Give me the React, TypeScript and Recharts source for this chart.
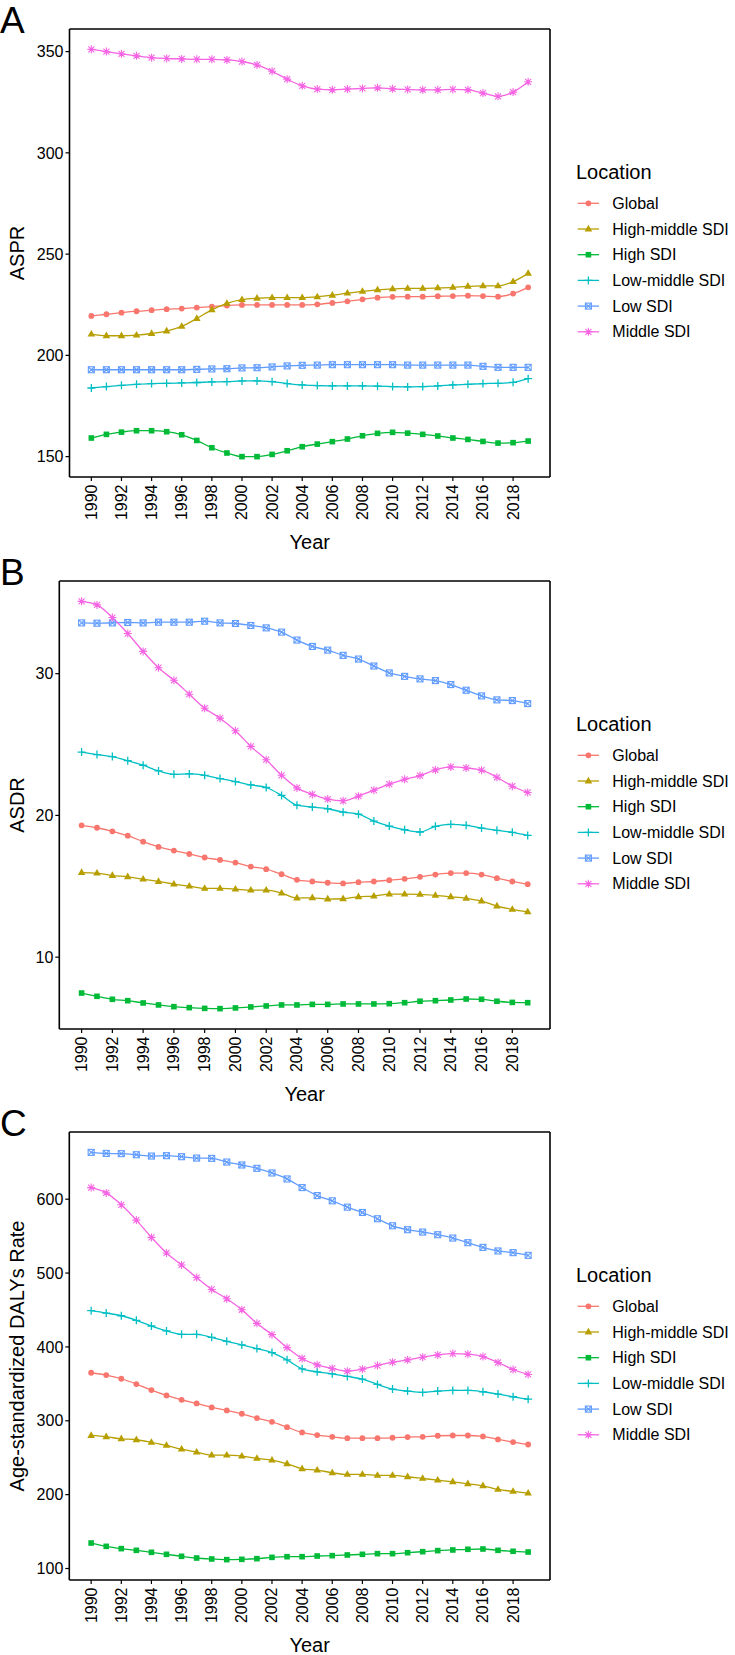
import React from 'react';
import { LineChart, Line, XAxis, YAxis, Legend, CartesianGrid } from 'recharts';

const years = [
  1990, 1991, 1992, 1993, 1994, 1995, 1996, 1997, 1998, 1999,
  2000, 2001, 2002, 2003, 2004, 2005, 2006, 2007, 2008, 2009,
  2010, 2011, 2012, 2013, 2014, 2015, 2016, 2017, 2018, 2019
];
const yearTicks = [1990, 1992, 1994, 1996, 1998, 2000, 2002, 2004, 2006, 2008, 2010, 2012, 2014, 2016, 2018];

const locations = ['Global', 'High-middle SDI', 'High SDI', 'Low-middle SDI', 'Low SDI', 'Middle SDI'];
const colors = ['#F8766D', '#B79F00', '#00BA38', '#00BFC4', '#619CFF', '#F564E3'];
const shapes = ['circle', 'triangle', 'square', 'plus', 'boxcross', 'asterisk'];

// A - ASPR
const asprGlobal = [219.5, 220.3, 221.1, 221.8, 222.3, 222.8, 223.1, 223.6, 224.1, 224.6, 224.9, 224.9, 224.9, 224.9, 224.9, 225.2, 225.9, 226.7, 227.7, 228.5, 228.9, 229.0, 229.0, 229.2, 229.3, 229.5, 229.3, 229.0, 230.5, 233.6];
const asprHighMiddle = [210.5, 209.7, 209.7, 210.0, 210.8, 212.0, 214.3, 218.2, 222.5, 225.7, 227.5, 228.2, 228.5, 228.5, 228.5, 228.9, 229.7, 230.7, 231.6, 232.3, 232.8, 233.1, 233.1, 233.3, 233.6, 234.1, 234.3, 234.3, 236.4, 240.5];
const asprHigh = [159.2, 161.0, 162.1, 162.8, 162.8, 162.3, 160.8, 158.0, 154.4, 151.8, 150.0, 150.0, 151.1, 152.9, 154.9, 156.2, 157.4, 158.7, 160.3, 161.5, 162.0, 161.6, 161.0, 160.2, 159.2, 158.5, 157.5, 156.7, 156.9, 157.7];
const asprLowMiddle = [183.9, 184.6, 185.2, 185.7, 186.1, 186.2, 186.4, 186.6, 186.9, 187.0, 187.4, 187.4, 187.0, 186.1, 185.4, 185.1, 184.9, 184.9, 184.9, 184.8, 184.6, 184.4, 184.6, 184.9, 185.4, 185.7, 186.1, 186.2, 186.7, 188.5];
const asprLow = [192.9, 192.9, 192.9, 192.9, 192.9, 192.9, 192.9, 193.1, 193.3, 193.4, 193.8, 193.9, 194.3, 194.8, 195.1, 195.2, 195.4, 195.4, 195.4, 195.4, 195.4, 195.2, 195.2, 195.2, 195.2, 195.2, 194.6, 194.1, 194.1, 194.1];
const asprMiddle = [351.1, 350.0, 348.9, 347.9, 347.0, 346.6, 346.4, 346.2, 346.2, 345.9, 345.1, 343.4, 340.3, 336.4, 333.1, 331.5, 331.1, 331.5, 331.8, 332.1, 331.6, 331.3, 331.1, 331.1, 331.3, 331.1, 329.5, 327.9, 330.0, 335.1];
const asprTicks = [150, 200, 250, 300, 350];

// B - ASDR
const asdrGlobal = [19.30, 19.13, 18.88, 18.57, 18.15, 17.78, 17.52, 17.28, 17.03, 16.86, 16.67, 16.39, 16.21, 15.85, 15.46, 15.34, 15.25, 15.20, 15.29, 15.34, 15.43, 15.53, 15.67, 15.83, 15.93, 15.93, 15.83, 15.57, 15.34, 15.15];
const asdrHighMiddle = [15.97, 15.93, 15.76, 15.67, 15.50, 15.34, 15.15, 15.01, 14.85, 14.85, 14.80, 14.73, 14.73, 14.52, 14.17, 14.19, 14.10, 14.12, 14.26, 14.31, 14.45, 14.45, 14.43, 14.36, 14.26, 14.15, 13.96, 13.61, 13.37, 13.19];
const asdrHigh = [7.47, 7.24, 7.03, 6.93, 6.77, 6.63, 6.51, 6.44, 6.39, 6.37, 6.42, 6.49, 6.56, 6.63, 6.63, 6.67, 6.67, 6.70, 6.70, 6.70, 6.72, 6.79, 6.89, 6.93, 6.98, 7.05, 7.03, 6.89, 6.81, 6.79];
const asdrLowMiddle = [24.47, 24.29, 24.15, 23.86, 23.54, 23.14, 22.90, 22.93, 22.83, 22.60, 22.39, 22.15, 21.97, 21.41, 20.72, 20.59, 20.47, 20.23, 20.09, 19.60, 19.25, 18.99, 18.83, 19.23, 19.37, 19.30, 19.11, 18.95, 18.81, 18.59];
const asdrLow = [33.58, 33.56, 33.58, 33.61, 33.58, 33.63, 33.63, 33.63, 33.70, 33.58, 33.54, 33.40, 33.23, 32.93, 32.37, 31.92, 31.66, 31.29, 31.03, 30.54, 30.05, 29.81, 29.63, 29.51, 29.23, 28.83, 28.43, 28.15, 28.10, 27.89];
const asdrMiddle = [35.10, 34.85, 33.96, 32.83, 31.57, 30.42, 29.53, 28.55, 27.56, 26.86, 25.97, 24.87, 23.93, 22.83, 21.94, 21.48, 21.15, 21.03, 21.36, 21.78, 22.20, 22.55, 22.81, 23.21, 23.42, 23.35, 23.19, 22.69, 22.06, 21.62];
const asdrTicks = [10, 20, 30];

// C - DALYs
const dalyGlobal = [365.0, 361.9, 356.9, 349.7, 341.5, 334.3, 328.4, 323.5, 318.1, 314.0, 309.5, 303.6, 298.6, 291.4, 284.2, 280.6, 278.3, 276.5, 276.5, 276.5, 277.0, 277.9, 278.3, 279.7, 280.1, 280.1, 278.8, 274.7, 271.1, 267.9];
const dalyHighMiddle = [280.1, 278.3, 275.6, 274.3, 270.7, 266.6, 261.6, 257.6, 253.5, 253.5, 252.1, 249.0, 246.7, 241.8, 235.0, 233.2, 229.6, 227.3, 227.3, 226.0, 226.0, 224.2, 221.9, 219.6, 217.4, 214.7, 212.0, 207.0, 204.3, 202.0];
const dalyHigh = [134.5, 130.0, 126.9, 124.6, 121.9, 119.2, 116.5, 114.2, 112.9, 112.0, 112.4, 113.3, 115.1, 116.0, 116.0, 116.9, 117.4, 118.3, 119.2, 120.1, 120.1, 121.4, 122.8, 124.2, 125.1, 126.0, 126.4, 124.6, 123.3, 122.3];
const dalyLowMiddle = [449.0, 445.8, 442.2, 436.0, 428.3, 421.6, 417.1, 417.1, 413.0, 407.6, 402.7, 397.8, 392.4, 382.5, 370.3, 366.3, 363.6, 360.0, 356.4, 349.2, 342.9, 340.2, 338.4, 340.2, 341.1, 341.1, 339.3, 336.1, 332.5, 329.3];
const dalyLow = [663.4, 662.0, 661.6, 660.2, 658.4, 658.9, 657.5, 655.7, 655.3, 650.3, 646.3, 641.8, 635.5, 627.4, 615.7, 604.9, 597.8, 589.2, 582.0, 573.5, 564.0, 558.7, 555.5, 551.9, 547.4, 541.1, 534.8, 529.9, 527.6, 524.0];
const dalyMiddle = [615.7, 608.5, 592.4, 571.7, 548.3, 527.2, 511.0, 493.9, 477.8, 465.2, 450.3, 431.9, 416.6, 399.1, 384.3, 375.7, 370.8, 367.2, 369.9, 374.8, 379.3, 382.5, 386.1, 389.2, 391.0, 390.1, 387.0, 378.9, 369.4, 362.7];
const dalyTicks = [100, 200, 300, 400, 500, 600];

const panels = [
  { letter: 'A', title: 'ASPR', ticks: asprTicks, axisWidth: 69.5,
    series: [asprGlobal, asprHighMiddle, asprHigh, asprLowMiddle, asprLow, asprMiddle] },
  { letter: 'B', title: 'ASDR', ticks: asdrTicks, axisWidth: 59.3,
    series: [asdrGlobal, asdrHighMiddle, asdrHigh, asdrLowMiddle, asdrLow, asdrMiddle] },
  { letter: 'C', title: 'Age-standardized DALYs Rate', ticks: dalyTicks, axisWidth: 69.3,
    series: [dalyGlobal, dalyHighMiddle, dalyHigh, dalyLowMiddle, dalyLow, dalyMiddle] }
];

const W = 735;
const PANEL_H = 1655 / 3;
const xDomain = [years[0] - 1.45, years[years.length - 1] + 1.45];

// ggplot-like 5% expansion
const expand = (series: number[][]) => {
  const all = series.flat();
  const lo = Math.min(...all);
  const hi = Math.max(...all);
  const pad = (hi - lo) * 0.05;
  return [lo - pad, hi + pad];
};

const toRows = (series: number[][]) =>
  years.map((year, i) => {
    const row: any = { year };
    series.forEach((s, k) => { row['s' + k] = s[i]; });
    return row;
  });

const Marker = ({ shape, cx, cy, color }: any) => {
  switch (shape) {
    case 'circle':
      return <circle cx={cx} cy={cy} r={2.9} fill={color} />;
    case 'triangle':
      return <polygon points={`${cx},${cy - 4.2} ${cx + 3.8},${cy + 2.4} ${cx - 3.8},${cy + 2.4}`} fill={color} />;
    case 'square':
      return <rect x={cx - 2.8} y={cy - 2.8} width={5.6} height={5.6} fill={color} />;
    case 'plus':
      return <path d={`M${cx - 4},${cy}H${cx + 4}M${cx},${cy - 4}V${cy + 4}`} stroke={color} strokeWidth={1.3} />;
    case 'boxcross':
      return (
        <g stroke={color} strokeWidth={1.1} fill="none">
          <rect x={cx - 3} y={cy - 3} width={6} height={6} />
          <path d={`M${cx - 3},${cy - 3}L${cx + 3},${cy + 3}M${cx + 3},${cy - 3}L${cx - 3},${cy + 3}`} />
        </g>
      );
    default:
      return (
        <path
          d={`M${cx - 4},${cy}H${cx + 4}M${cx},${cy - 4}V${cy + 4}M${cx - 3},${cy - 3}L${cx + 3},${cy + 3}M${cx + 3},${cy - 3}L${cx - 3},${cy + 3}`}
          stroke={color}
          strokeWidth={1.1}
        />
      );
  }
};

const YearTick = (props: any) => {
  const { x, y, payload } = props;
  return (
    <text x={x} y={y} transform={`rotate(-90, ${x}, ${y})`} textAnchor="end" dominantBaseline="central" fontSize={16} fill="#000">
      {payload.value}
    </text>
  );
};

const LegendBox = () => (
  <svg width={165} height={200} style={{ display: 'block', overflow: 'visible' }}>
    <text x={6} y={28.5} fontSize={20} fill="#000">Location</text>
    {locations.map((loc, k) => {
      const cy = 53.3 + k * 25.7;
      return (
        <g key={loc}>
          <line x1={7.7} x2={29} y1={cy} y2={cy} stroke={colors[k]} strokeWidth={1.3} />
          <Marker shape={shapes[k]} cx={18.4} cy={cy} color={colors[k]} />
          <text x={42.3} y={cy} dominantBaseline="central" fontSize={16} fill="#000">{loc}</text>
        </g>
      );
    })}
  </svg>
);

const Panel = ({ panel, top }: any) => {
  const rows = toRows(panel.series);
  const yDomain = expand(panel.series);
  const border = { stroke: '#000', strokeWidth: 1.6 };
  return (
    <div style={{ position: 'absolute', left: 0, top, width: W, height: PANEL_H }}>
      <div style={{ position: 'absolute', left: 0, top: 0, fontSize: 37, lineHeight: '42px' }}>{panel.letter}</div>
      <LineChart width={W} height={552} data={rows} margin={{ top: 29, right: 185, bottom: 0, left: 0 }}>
        {/* top and right edges of the panel box */}
        <CartesianGrid
          stroke="#000"
          strokeWidth={1.6}
          horizontalCoordinatesGenerator={(p: any) => [p.offset.top]}
          verticalCoordinatesGenerator={(p: any) => [p.offset.left + p.offset.width]}
        />
        <XAxis
          dataKey="year"
          type="number"
          domain={xDomain}
          allowDataOverflow
          ticks={yearTicks}
          interval={0}
          height={75}
          tickSize={4}
          tickMargin={3.5}
          tick={<YearTick />}
          axisLine={border}
          tickLine={{ stroke: '#000', strokeWidth: 1.2 }}
          label={(p: any) => {
            const vb = p.viewBox;
            return (
              <text x={vb.x + vb.width / 2} y={vb.y + 72} textAnchor="middle" fontSize={20} fill="#000">Year</text>
            );
          }}
        />
        <YAxis
          type="number"
          domain={yDomain}
          allowDataOverflow
          ticks={panel.ticks}
          interval={0}
          width={panel.axisWidth}
          tickSize={4}
          tickMargin={2}
          tick={{ fontSize: 16, fill: '#000' }}
          axisLine={border}
          tickLine={{ stroke: '#000', strokeWidth: 1.2 }}
          label={(p: any) => {
            const vb = p.viewBox;
            const cy = vb.y + vb.height / 2;
            return (
              <text x={16.5} y={cy} transform={`rotate(-90, 16.5, ${cy})`} textAnchor="middle" dominantBaseline="central" fontSize={20} fill="#000">
                {panel.title}
              </text>
            );
          }}
        />
        {locations.map((loc, k) => (
          <Line
            key={loc}
            dataKey={'s' + k}
            name={loc}
            type="monotone"
            stroke={colors[k]}
            strokeWidth={1.3}
            isAnimationActive={false}
            dot={(p: any) => <Marker key={`${k}-${p.index}`} shape={shapes[k]} cx={p.cx} cy={p.cy} color={colors[k]} />}
            activeDot={false}
          />
        ))}
        <Legend
          layout="vertical"
          align="center"
          verticalAlign="middle"
          wrapperStyle={{ left: 570, top: 150, width: 165, height: 200 }}
          content={() => <LegendBox />}
        />
      </LineChart>
    </div>
  );
}

export default function App() {
  return (
    <div style={{ position: 'absolute', left: 0, top: 0, width: W, height: 1655, background: '#fff', fontFamily: '"Liberation Sans", Arial, sans-serif', color: '#000' }}>
      {panels.map((panel, i) => (
        <Panel key={panel.letter} panel={panel} top={i * PANEL_H} />
      ))}
    </div>
  );
}
